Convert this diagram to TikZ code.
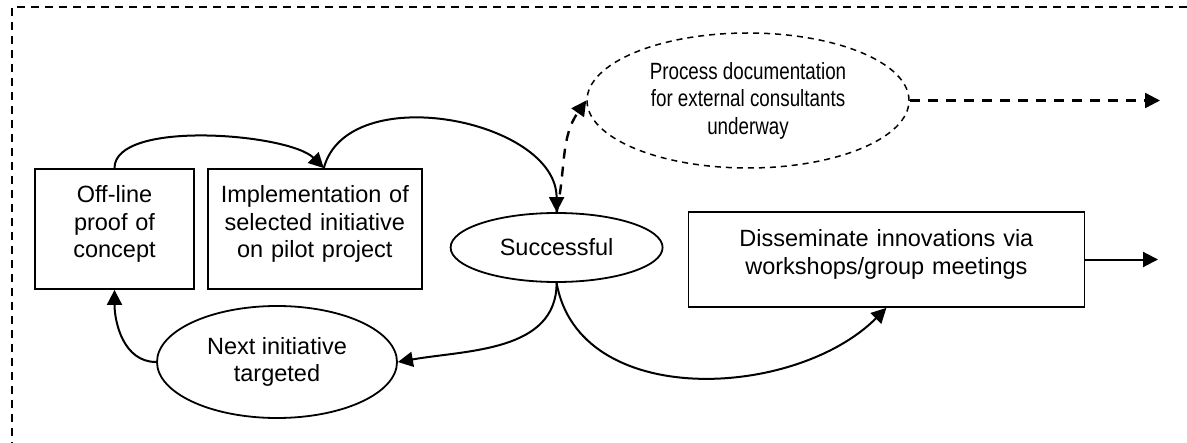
\documentclass[tikz,border=0pt]{standalone}
\usepackage{fontspec}
\setmainfont{Liberation Sans}
\newfontfamily\narrowsans[FakeStretch=0.8]{Liberation Sans}
\usetikzlibrary{positioning,shapes.geometric,arrows.meta}

\begin{document}
\begin{tikzpicture}[x=0.5pt,y=-0.5pt,>={Triangle[length=7.5pt,width=7.5pt]}]
	\tikzstyle{block}=[rectangle,draw,line width=0.9pt,align=center,inner xsep=0pt,inner ysep=0pt,text height=17pt,font=\fontsize{11.75pt}{13.75pt}\selectfont]
	\tikzstyle{oval}=[ellipse,draw,line width=0.9pt,align=center,inner sep=0pt,font=\fontsize{11.75pt}{13.75pt}\selectfont]
	\tikzstyle{flow}=[->,line width=1pt]
	\tikzstyle{dashflow}=[->,line width=1.2pt,dash pattern=on 5pt off 4pt]
		\useasboundingbox (0,0) rectangle (1187,443);
		% frame (cut off at the page edge)
		\draw[line width=1pt,dash pattern=on 4pt off 3pt] (12,450) -- (12,7) -- (1195,7);
		\node[block, text width=79.5pt, text depth=43pt] (offline) at (114.5,229) {Off-line\\proof of\\concept};
		\node[block, text width=107pt, text depth=43pt] (impl) [right=6pt of offline] {Implementation of\\selected initiative\\on pilot project};
		\node[oval, minimum width=106pt, minimum height=34.5pt] (succ) [right=13.5pt of impl, yshift=-9.25pt] {Successful};
		\node[block, text width=198pt, text height=17.5pt, text depth=30pt] (dissem) [right=12pt of succ, yshift=-6pt] {Disseminate innovations via\\workshops/group meetings};
		\node[oval, dash pattern=on 3pt off 2.5pt, line width=0.75pt, minimum width=161pt, minimum height=67.5pt, font=\fontsize{11.75pt}{13.75pt}\narrowsans] (procdoc) at (748,100.5) {Process documentation\\for external consultants\\underway};
		\node[oval, minimum width=120pt, minimum height=56pt] (next) at (277,362) {Next initiative\\targeted};
		\coordinate (docout) at (1160,100.5);
		\coordinate (disout) at (1158,259.5);
			\draw[flow] (offline.north) to[out=90,in=135,looseness=0.6] ([xshift=4.5pt]impl.north);
			\draw[flow] ([xshift=4.5pt]impl.north) to[out=75,in=90] (succ.north);
			\draw[dashflow] (succ.north) to[out=78,in=-125] (procdoc.west);
			\draw[flow] (succ.south) to[out=-90,in=10] (next.east);
			\draw[flow] (succ.south) to[out=-80,in=-135] (dissem.south);
			\draw[flow] (next.west) to[out=180,in=-90] (offline.south);
			\draw[dashflow] (procdoc.east) -- (docout);
			\draw[flow] (dissem.east) -- (disout);
\end{tikzpicture}
\end{document}
